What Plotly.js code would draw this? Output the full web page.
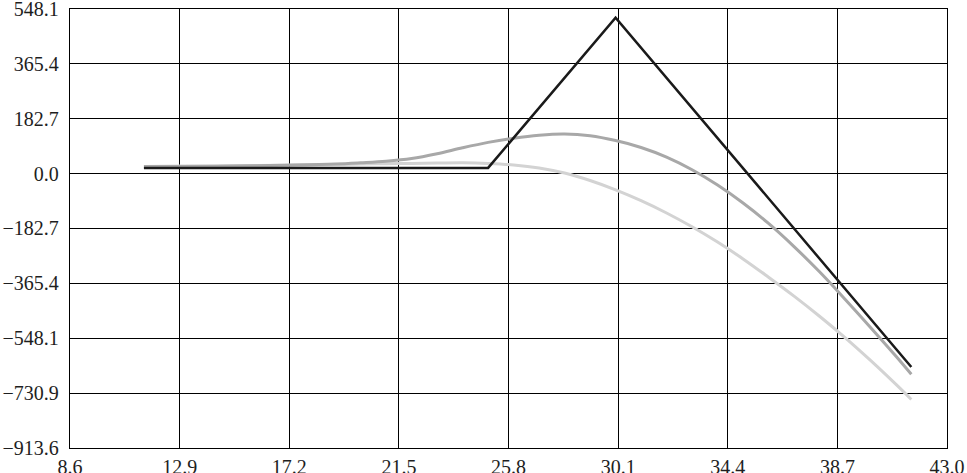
<!DOCTYPE html>
<html>
<head>
<meta charset="utf-8">
<script src="https://cdn.plot.ly/plotly-3.0.1.min.js"></script>
<style>html,body{margin:0;padding:0;background:#fff;}#chart{width:967px;height:473px;}</style>
</head>
<body>
<div id="chart"></div>
<script>
// Expiration payoff (black)
const expiryX = [11.5, 25.0, 30.0, 41.6];
const expiryY = [19, 19, 519, -644];

// Curves before expiration (grey)
const curveX = [11.5, 13, 15, 17, 19, 20, 21, 22, 23, 24, 25, 26, 27, 28, 29, 30, 31, 32, 33, 34, 35, 36, 37, 38, 39, 40, 41, 41.6];
const midY   = [24, 24, 25, 28, 32, 36, 41, 50, 66, 86, 104, 118, 128, 132, 126, 110, 87, 55, 13, -38, -98, -166, -243, -327, -418, -512, -608, -668];
const lightY = [24, 25, 26, 28, 30, 32, 33, 34, 35, 36, 34, 29, 19, 2, -23, -54, -90, -131, -177, -228, -284, -345, -408, -475, -546, -622, -702, -752];

// Tick labels
const xTickVals = [8.6, 12.9, 17.2, 21.5, 25.8, 30.1, 34.4, 38.7, 43.0];
const xTickText = ["8.6", "12.9", "17.2", "21.5", "25.8", "30.1", "34.4", "38.7", "43.0"];
const yTickVals = [548.1, 365.4, 182.7, 0.0, -182.7, -365.4, -548.1, -730.9, -913.6];
const yTickText = ["548.1", "365.4", "182.7", "0.0", "\u2212182.7", "\u2212365.4", "\u2212548.1", "\u2212730.9", "\u2212913.6"];

const traces = [
  {x: curveX, y: lightY, mode: 'lines', line: {color: '#d3d3d3', width: 3, shape: 'spline', smoothing: 1}, hoverinfo: 'skip'},
  {x: curveX, y: midY, mode: 'lines', line: {color: '#a8a8a8', width: 3, shape: 'spline', smoothing: 1}, hoverinfo: 'skip'},
  {x: expiryX, y: expiryY, mode: 'lines', line: {color: '#1a1a1a', width: 2.5}, hoverinfo: 'skip'}
];

const axisCommon = {
  showgrid: true, gridcolor: '#000', gridwidth: 1.2,
  showline: true, linecolor: '#000', linewidth: 1.2, mirror: true,
  zeroline: false, ticks: '',
  tickfont: {family: 'Liberation Serif', size: 20, color: '#1e1e1e'},
  tickmode: 'array',
  ticklabeloverflow: 'allow'
};

const layout = {
  width: 967, height: 473,
  margin: {l: 70, r: 20, t: 9, b: 25, pad: 0},
  paper_bgcolor: '#fff', plot_bgcolor: '#fff',
  showlegend: false,
  xaxis: Object.assign({}, axisCommon, {range: [8.6, 43.0], tickvals: xTickVals, ticktext: xTickText, ticklabelstandoff: 1}),
  yaxis: Object.assign({}, axisCommon, {range: [-913.6, 548.1], tickvals: yTickVals, ticktext: yTickText, ticklabelstandoff: 6})
};

Plotly.newPlot('chart', traces, layout, {staticPlot: true, displayModeBar: false});
</script>
</body>
</html>
